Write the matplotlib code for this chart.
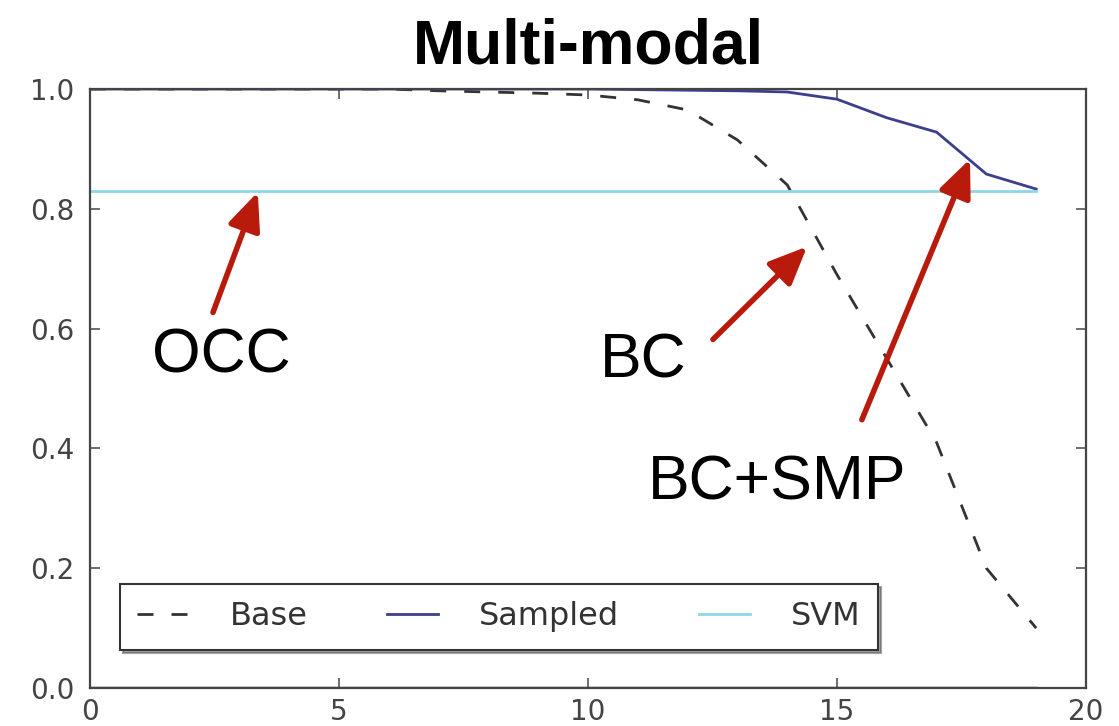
import matplotlib
matplotlib.use("Agg")
import matplotlib.pyplot as plt

# data
steps = list(range(20))
base = [1.0, 1.0, 1.0, 1.0, 1.0, 1.0, 1.0, 0.997, 0.995, 0.993,
        0.99, 0.982, 0.965, 0.915, 0.84, 0.69, 0.55, 0.41, 0.20, 0.10]
sampled = [1.0, 1.0, 1.0, 1.0, 1.0, 1.0, 1.0, 1.0, 1.0, 1.0,
           1.0, 0.999, 0.998, 0.997, 0.995, 0.983, 0.952, 0.928, 0.858, 0.833]
svm = [0.83] * 20
floor = [0.0] * 20
labels = ["Base", "Sampled", "SVM"]
xticks = [0, 5, 10, 15, 20]
yticks = [0.0, 0.2, 0.4, 0.6, 0.8, 1.0]

plt.rcParams["lines.scale_dashes"] = False

fig = plt.figure(figsize=(11.19, 7.26), dpi=100)
ax = fig.add_axes([0.0804, 0.0523, 0.8901, 0.8251])

ax.plot(steps, floor, color="#4a4f7c", lw=2.5, zorder=1)
ax.plot(steps, base, color="#333333", lw=2.0, dashes=(11.5, 13), label=labels[0])
ax.plot(steps, sampled, color="#3b3f8c", lw=2.0, label=labels[1])
ax.plot(steps, svm, color="#8fd6e6", lw=2.0, label=labels[2])

ax.set_xlim(0, 20)
ax.set_ylim(0, 1.0)
ax.set_xticks(xticks)
ax.set_yticks(yticks)
ax.set_yticklabels(["%.1f" % v for v in yticks])
ax.tick_params(direction="in", length=7, width=1.2, colors="#555555",
               labelcolor="#444444", labelsize=20, top=True, right=True)
ax.tick_params(axis="x", pad=7)
ax.tick_params(axis="y", pad=11)
for s in ax.spines.values():
    s.set_color("#444444")
    s.set_linewidth(1.6)

leg = ax.legend(loc="lower left", bbox_to_anchor=(0.030, 0.0635), borderaxespad=0,
                ncol=3, fontsize=23, frameon=True, fancybox=False, shadow=True,
                handlelength=1.6, handletextpad=1.28, columnspacing=2.5, borderpad=0.55)
leg.get_frame().set_edgecolor("#333333")
leg.get_frame().set_linewidth(1.5)
for t in leg.get_texts():
    t.set_color("#333333")

# title and callouts
fig.text(0.5255, 0.913, "Multi-modal", ha="center", va="baseline",
         fontsize=45, fontweight="bold", family="Liberation Sans")

red = "#b81a0b"
arrows = [((2.47, 0.627), (3.37, 0.828)),
          ((12.51, 0.582), (14.40, 0.737)),
          ((15.50, 0.448), (17.67, 0.883))]
for tail, head in arrows:
    ax.annotate("", xy=head, xytext=tail,
                arrowprops=dict(arrowstyle="-|>,head_length=1.15,head_width=0.5",
                                mutation_scale=20, lw=4, color=red,
                                shrinkA=0, shrinkB=0))

ax.text(1.245, 0.527, "OCC", fontsize=45, family="Liberation Sans", va="baseline")
ax.text(10.24, 0.518, "BC", fontsize=45, family="Liberation Sans", va="baseline")
ax.text(11.2, 0.314, "BC+SMP", fontsize=45, family="Liberation Sans", va="baseline")

fig.savefig("out.png", dpi=100)
